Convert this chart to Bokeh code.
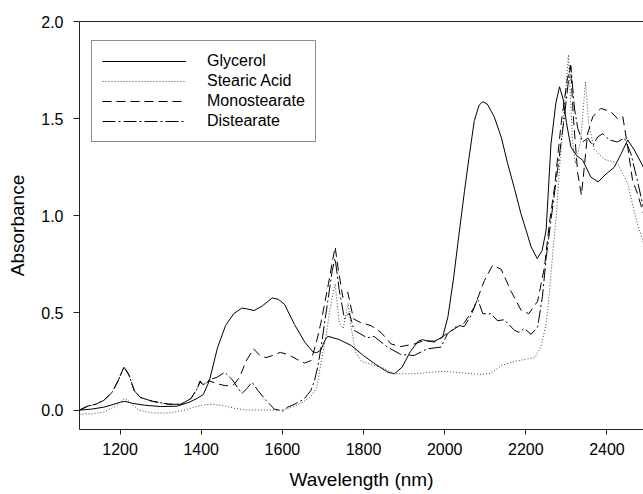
from bokeh.plotting import figure
from bokeh.models import (Range1d, LinearAxis, FixedTicker, PrintfTickFormatter,
                          Legend, LegendItem)
from bokeh.embed import file_html
from bokeh.resources import INLINE

# ---------------- data ----------------
glycerol_wl = [1100, 1130, 1160, 1185, 1200, 1212, 1230, 1260, 1300, 1340, 1370, 1390, 1405,
               1420, 1440, 1460, 1480, 1500, 1515, 1530, 1550, 1575, 1590, 1605, 1630, 1655,
               1675, 1685, 1695, 1705, 1712, 1740, 1770, 1800, 1830, 1860, 1876, 1895, 1915,
               1935, 1945, 1960, 1975, 1995, 2008, 2022, 2035, 2049, 2060, 2073, 2085, 2094,
               2105, 2122, 2140, 2155, 2172, 2188, 2200, 2213, 2228, 2240, 2250, 2262, 2274,
               2283, 2292, 2300, 2311, 2325, 2340, 2360, 2378, 2395, 2418, 2435, 2451, 2467, 2490]
glycerol_abs = [0.0, 0.005, 0.015, 0.03, 0.04, 0.045, 0.035, 0.025, 0.018, 0.02, 0.04, 0.06, 0.08,
                0.15, 0.32, 0.435, 0.496, 0.525, 0.52, 0.512, 0.535, 0.577, 0.57, 0.545, 0.44, 0.35,
                0.30, 0.295, 0.31, 0.36, 0.38, 0.363, 0.332, 0.28, 0.235, 0.195, 0.187, 0.22, 0.30,
                0.355, 0.362, 0.355, 0.355, 0.375, 0.48, 0.68, 0.90, 1.13, 1.30, 1.49, 1.57, 1.587,
                1.575, 1.51, 1.40, 1.27, 1.14, 1.01, 0.93, 0.84, 0.78, 0.82, 0.925, 1.37, 1.58,
                1.664, 1.60, 1.48, 1.355, 1.31, 1.286, 1.20, 1.174, 1.21, 1.25, 1.32, 1.39, 1.34, 1.25]

stearic_wl = [1100, 1130, 1160, 1190, 1205, 1212, 1225, 1245, 1280, 1320, 1360, 1390, 1420, 1450,
              1480, 1510, 1550, 1600, 1630, 1650, 1670, 1685, 1695, 1708, 1720, 1730, 1740, 1750,
              1762, 1770, 1780, 1795, 1820, 1850, 1876, 1930, 1970, 2000, 2050, 2090, 2115, 2140,
              2172, 2205, 2222, 2237, 2250, 2258, 2266, 2275, 2285, 2295, 2305, 2315, 2322, 2335,
              2347, 2355, 2369, 2394, 2426, 2451, 2471, 2490]
stearic_abs = [-0.02, -0.02, -0.01, 0.02, 0.05, 0.06, 0.04, 0.0, -0.015, -0.015, 0.0, 0.02, 0.03,
               0.025, 0.01, 0.0, 0.0, 0.0, 0.02, 0.04, 0.07, 0.12, 0.24, 0.39, 0.55, 0.65, 0.45,
               0.42, 0.55, 0.42, 0.30, 0.25, 0.235, 0.215, 0.187, 0.187, 0.195, 0.20, 0.19, 0.183,
               0.19, 0.23, 0.25, 0.264, 0.27, 0.324, 0.444, 0.60, 0.80, 1.0, 1.3, 1.55, 1.83, 1.39,
               1.27, 1.38, 1.69, 1.475, 1.34, 1.29, 1.27, 1.166, 0.99, 0.857]

mono_wl = [1100, 1120, 1140, 1160, 1180, 1195, 1210, 1222, 1235, 1250, 1280, 1320, 1350, 1375,
           1390, 1397, 1405, 1420, 1440, 1460, 1480, 1495, 1510, 1529, 1545, 1560, 1575, 1595,
           1615, 1635, 1655, 1671, 1685, 1695, 1712, 1722, 1730, 1738, 1749, 1761, 1767, 1775,
           1793, 1818, 1843, 1868, 1892, 1925, 1950, 1975, 1999, 2024, 2049, 2073, 2098, 2118,
           2139, 2164, 2188, 2207, 2229, 2246, 2258, 2271, 2287, 2302, 2310, 2318, 2328, 2337,
           2345, 2352, 2365, 2385, 2410, 2426, 2439, 2451, 2463, 2475, 2490]
mono_abs = [0.0, 0.02, 0.03, 0.05, 0.09, 0.15, 0.225, 0.18, 0.10, 0.065, 0.045, 0.03, 0.03, 0.06,
            0.11, 0.145, 0.13, 0.15, 0.135, 0.125, 0.13, 0.17, 0.25, 0.315, 0.28, 0.27, 0.28,
            0.297, 0.285, 0.262, 0.242, 0.255, 0.36, 0.45, 0.633, 0.75, 0.84, 0.72, 0.58, 0.607,
            0.55, 0.47, 0.45, 0.435, 0.40, 0.34, 0.327, 0.34, 0.358, 0.35, 0.384, 0.418, 0.45,
            0.53, 0.667, 0.745, 0.725, 0.61, 0.515, 0.496, 0.56, 0.736, 0.96, 1.15, 1.475, 1.70,
            1.776, 1.48, 1.217, 1.106, 1.27, 1.42, 1.51, 1.553, 1.535, 1.50, 1.51, 1.355, 1.183,
            1.115, 1.01]

di_wl = [1100, 1120, 1140, 1160, 1180, 1195, 1210, 1222, 1235, 1250, 1280, 1320, 1350, 1375,
         1390, 1397, 1405, 1420, 1440, 1458, 1475, 1500, 1512, 1525, 1540, 1560, 1580, 1600,
         1613, 1635, 1654, 1670, 1679, 1688, 1695, 1711, 1723, 1730, 1740, 1753, 1765, 1777,
         1809, 1826, 1859, 1892, 1925, 1957, 1991, 2007, 2032, 2048, 2065, 2081, 2094, 2114,
         2130, 2147, 2172, 2184, 2196, 2213, 2229, 2241, 2250, 2262, 2279, 2295, 2307, 2311,
         2320, 2328, 2340, 2353, 2365, 2377, 2390, 2406, 2426, 2443, 2459, 2475, 2490]
di_abs = [0.0, 0.02, 0.03, 0.05, 0.09, 0.15, 0.22, 0.18, 0.10, 0.065, 0.045, 0.03, 0.03, 0.06,
          0.11, 0.15, 0.13, 0.155, 0.17, 0.195, 0.16, 0.085, 0.11, 0.143, 0.10, 0.05, 0.005,
          -0.005, 0.015, 0.035, 0.058, 0.10, 0.15, 0.23, 0.32, 0.547, 0.72, 0.78, 0.62, 0.47,
          0.50, 0.41, 0.372, 0.379, 0.324, 0.286, 0.281, 0.315, 0.324, 0.393, 0.436, 0.43, 0.487,
          0.573, 0.496, 0.496, 0.46, 0.465, 0.41, 0.40, 0.42, 0.39, 0.427, 0.585, 0.78, 0.98,
          1.25, 1.51, 1.73, 1.77, 1.55, 1.45, 1.38, 1.40, 1.36, 1.406, 1.423, 1.39, 1.38, 1.40,
          1.32, 1.18, 1.04]

series_names = ["Glycerol", "Stearic Acid", "Monostearate", "Distearate"]
x_ticks = [1200, 1400, 1600, 1800, 2000, 2200, 2400]
y_ticks = [0.0, 0.5, 1.0, 1.5, 2.0]
x_title = "Wavelength (nm)"
y_title = "Absorbance"

# ---------------- figure ----------------
FONT = "Liberation Sans"
p = figure(width=643, height=494, output_backend="svg", toolbar_location=None,
           x_range=Range1d(1100, 2490), y_range=Range1d(-0.1, 2.0),
           min_border_left=79, min_border_right=0, min_border_top=21, min_border_bottom=65,
           x_axis_type=None, y_axis_type=None)
p.outline_line_color = None
p.xgrid.visible = False
p.ygrid.visible = False
p.background_fill_color = "white"
p.border_fill_color = "white"

def style_axis(ax):
    ax.axis_line_color = "#222222"
    ax.axis_line_width = 1
    ax.major_tick_line_color = "#222222"
    ax.major_tick_in = 0
    ax.major_tick_out = 6
    ax.minor_tick_line_color = None
    ax.major_label_text_font = FONT
    ax.major_label_text_font_size = "16px"
    ax.major_label_text_color = "black"
    ax.axis_label_text_font = FONT
    ax.axis_label_text_font_style = "normal"
    ax.axis_label_text_color = "black"

xaxis = LinearAxis(ticker=FixedTicker(ticks=x_ticks), axis_label=x_title)
style_axis(xaxis)
xaxis.major_tick_out = 5
xaxis.major_label_standoff = 8
xaxis.axis_label_standoff = 11
xaxis.axis_label_text_font_size = "19px"
p.add_layout(xaxis, "below")

yaxis = LinearAxis(ticker=FixedTicker(ticks=y_ticks), formatter=PrintfTickFormatter(format="%.1f"),
                   axis_label=y_title)
style_axis(yaxis)
yaxis.major_label_standoff = 10
yaxis.axis_label_standoff = 10
yaxis.axis_label_text_font_size = "19px"
p.add_layout(yaxis, "left")

top = LinearAxis(ticker=FixedTicker(ticks=[]))
top.axis_line_color = "#222222"
top.major_tick_out = 0
top.major_tick_in = 0
top.minor_tick_line_color = None
top.major_label_standoff = 0
top.major_label_text_font_size = "0px"
p.add_layout(top, "above")

r1 = p.line(glycerol_wl, glycerol_abs, line_color="black", line_width=1)
r2 = p.line(stearic_wl, stearic_abs, line_color="#444444", line_width=1, line_dash="1 2")
r3 = p.line(mono_wl, mono_abs, line_color="black", line_width=1, line_dash="9 5")
r4 = p.line(di_wl, di_abs, line_color="black", line_width=1, line_dash="13 3 2 3")

legend = Legend(items=[LegendItem(label=series_names[0], renderers=[r1]),
                       LegendItem(label=series_names[1], renderers=[r2]),
                       LegendItem(label=series_names[2], renderers=[r3]),
                       LegendItem(label=series_names[3], renderers=[r4])],
                location=(12, 287))
legend.padding = 10
legend.spacing = 0
legend.margin = 0
legend.glyph_width = 84
legend.glyph_height = 20
legend.label_height = 20
legend.label_standoff = 21
legend.label_text_font = FONT
legend.label_text_font_size = "16px"
legend.label_text_color = "black"
legend.border_line_color = "#222222"
legend.border_line_width = 1
legend.background_fill_color = "white"
legend.background_fill_alpha = 1
p.add_layout(legend, "center")

open("out.html", "w").write(file_html(p, INLINE))
